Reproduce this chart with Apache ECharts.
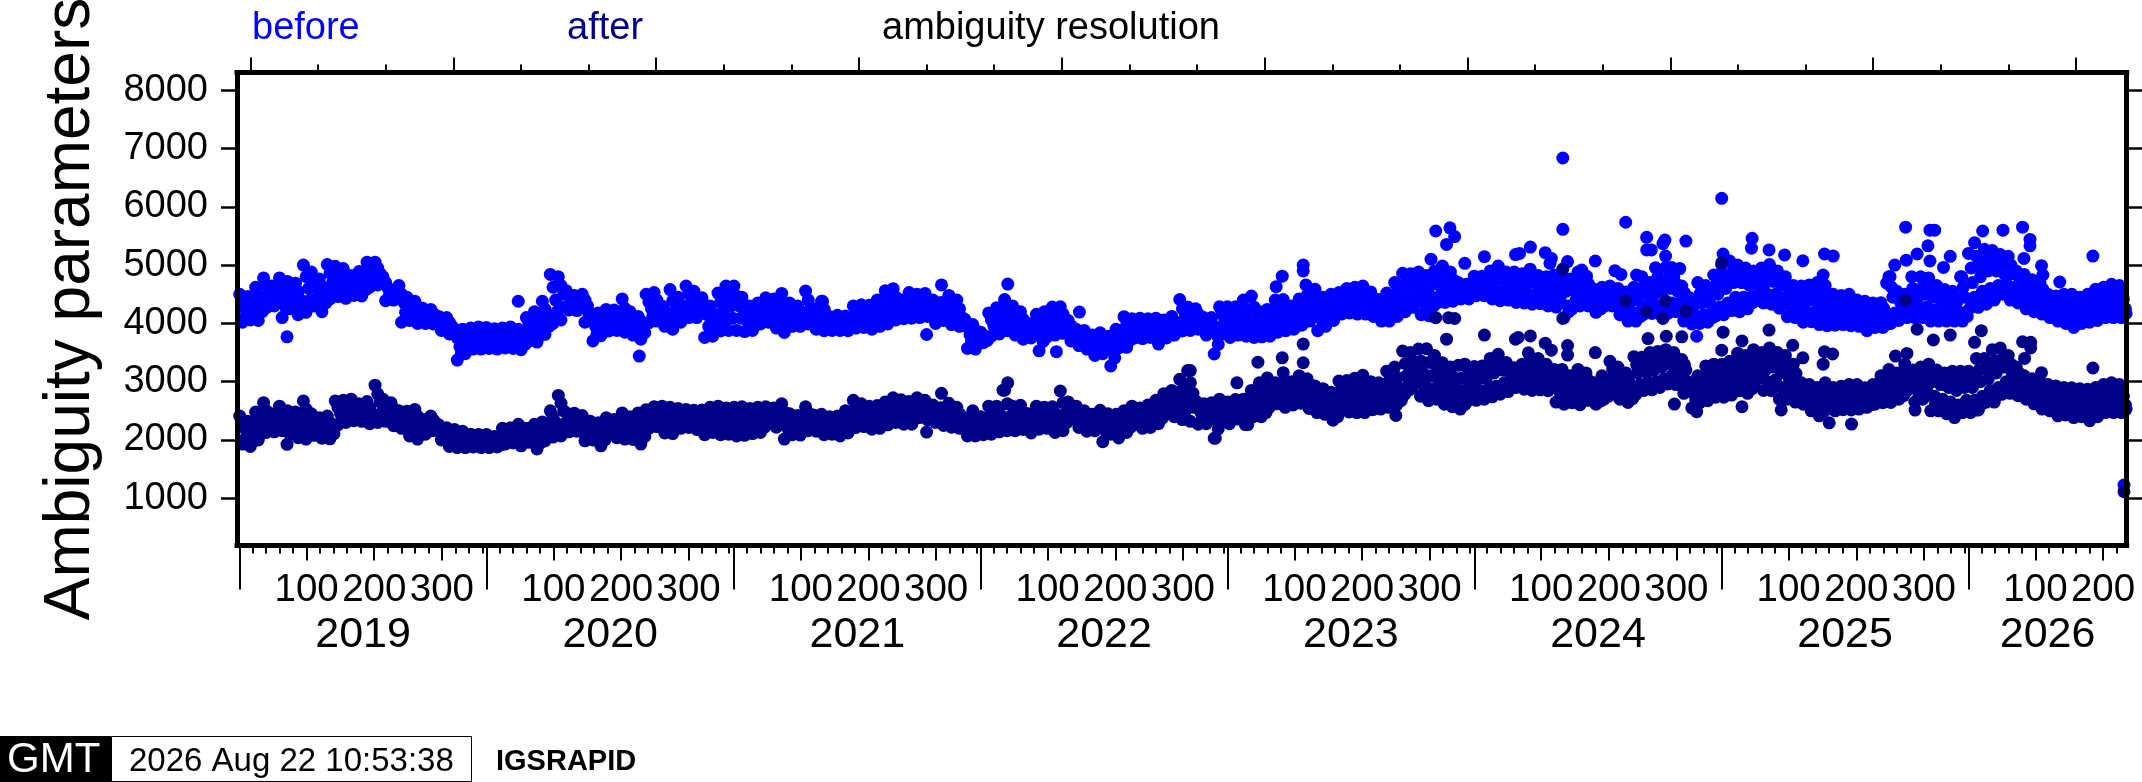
<!DOCTYPE html>
<html><head><meta charset="utf-8">
<style>html,body{margin:0;padding:0;background:#fff}#c{width:2142px;height:782px}</style>
<script src="https://cdn.jsdelivr.net/npm/echarts@6/dist/echarts.min.js"></script>
</head><body><div id="c"></div>
<script>
const yearNames=['2019','2020','2021','2022','2023','2024','2025','2026'];
const yearStarts=[0,365,731,1096,1461,1826,2192,2557];
const lastDay=2791;
const yTicks=[1000,2000,3000,4000,5000,6000,7000,8000];
const doyMinor=[20,40,60,80,100,120,140,160,180,200,220,240,260,280,300,320,340,360];
const doyLabels=[100,200,300];

const before2019=[4500,4020,4260,4460,4060,4300,4620,4050,4350,4780,4270,4520,4640,4300,4480,4780,4100,4420,4720,4250,4500,4690,4150,4400,5000,4190,4600,4880,4300,4620,4760,4200,4500,5010,4420,4700,4980,4460,4700,4940,4430,4680,4820,4480,4650,4890,4470,4700,5050,4620,4800,5050,4660,4850,4800,4390,4600,4560,4400,4480,4650,4020,4350,4450,4050,4250,4380,4000,4200,4260,4000,4120,4240,3990,4100,4120,3880,4000,4100,3820,3950,3900,3370,3600,3900,3480,3700,3920,3560,3720,3940,3560,3750];
const before2020=[3930,3570,3750,3910,3560,3740,3920,3580,3760,3940,3570,3750,3900,3550,3730,4100,3700,3880,4200,3680,3950,4380,3810,4100,4840,4000,4400,4800,4060,4500,4560,4230,4400,4480,4220,4350,4500,4020,4300,4180,3700,3950,4180,3790,4000,4240,3870,4050,4230,3880,4050,4420,3850,4100,4200,3800,4000,4120,3730,3950,4500,4010,4250,4530,4040,4280,4300,3950,4150,4580,3900,4200,4450,4020,4200,4640,4100,4350,4550,4100,4300,4440,3760,4150,4300,3780,4050,4520,3870,4200,4640,3880,4300];
const before2021=[4640,3880,4300,4450,3860,4150,4300,3880,4080,4350,3990,4180,4440,4020,4220,4420,3920,4180,4515,3845,4200,4350,3950,4150,4300,3950,4120,4555,3990,4250,4250,3900,4080,4380,3875,4100,4120,3880,4000,4140,3880,4010,4125,3875,4000,4300,3920,4100,4320,3930,4100,4310,3900,4100,4400,3950,4150,4560,3990,4300,4595,4060,4300,4400,4080,4250,4530,4090,4300,4500,4100,4300,4515,4120,4320,4400,4000,4200,4360,4050,4200,4480,3980,4200,4400,3950,4100,4070,3570,3800,3980,3560,3780];
const before2022=[3850,3670,3760,4180,3780,3950,4270,3820,4050,4410,3875,4150,4300,3800,4050,4200,3730,3950,4000,3750,3850,4155,3530,3850,4200,3770,3950,4280,3800,4050,4285,3830,4050,4050,3700,3880,3900,3620,3780,3880,3560,3720,3800,3450,3640,3840,3480,3650,3780,3270,3560,3900,3580,3720,4115,3590,3850,4080,3750,3920,4090,3740,3920,4080,3760,3920,4090,3645,3900,4060,3750,3900,4120,3800,3950,4410,3870,4100,4280,3880,4080,4250,3900,4080,4100,3800,3950,4100,3475,3800,4285,3820,4050];
const before2023=[4285,3760,4020,4285,3800,4050,4400,3780,4050,4470,3760,4100,4200,3770,4000,4240,3780,4020,4400,3850,4100,4410,3875,4150,4300,3900,4100,4420,3970,4200,4480,4040,4250,4585,3875,4250,4450,3950,4200,4500,4050,4280,4530,4160,4350,4600,4180,4380,4620,4160,4400,4640,4160,4400,4540,4120,4330,4410,4040,4250,4520,4040,4300,4700,4120,4400,4860,4200,4500,4850,4275,4550,4880,4150,4500,4820,4130,4450,4900,4350,4650,4985,4360,4650,4880,4380,4620,4700,4420,4550,4670,4420,4550];
const before2024=[4810,4475,4700,4580,4810,4475,4700,4580,4900,4420,4720,4560,4985,4390,4750,4550,4880,4400,4700,4540,4880,4360,4700,4520,4850,4350,4660,4500,4930,4330,4700,4500,4820,4340,4640,4480,4800,4300,4620,4450,4830,4280,4600,4420,4800,4100,4550,4300,4760,4250,4560,4400,4880,4300,4620,4440,4780,4300,4560,4420,4585,4190,4450,4320,4620,4290,4500,4400,4640,4300,4500,4400,4600,4150,4420,4280,4540,4040,4350,4180,4620,4040,4400,4200,4800,4160,4500,4300,4700,4170,4480,4300,4800,4160,4550,4330,4960,4170,4600,4350,4800,4200,4550,4350,4640,4040,4400,4200,4440,3990,4300,4120,4700,4000,4350,4150,4650,4020,4350,4180,4830,4130,4500,4280];
const before2025=[5000,4150,4600,4350,5070,4220,4700,4450,5000,4200,4700,4450,4950,4250,4650,4450,4900,4390,4700,4520,4950,4350,4700,4500,5010,4330,4720,4500,4900,4260,4650,4430,4800,4115,4500,4300,4650,4100,4420,4250,4640,4020,4350,4180,4660,4030,4400,4200,4700,3980,4350,4150,4650,3960,4300,4130,4500,3970,4280,4100,4480,3980,4250,4100,4500,3960,4280,4100,4400,3950,4200,4070,4380,3875,4170,4020,4350,3930,4180,4050,4355,3930,4180,4050,4800,4000,4450,4180,4550,4050,4350,4180,4500,4100,4350,4220,4600,4100,4400,4250,4800,4100,4500,4280,4780,4040,4450,4230,4650,4040,4400,4200,4580,4040,4350,4200,4550,4040,4350,4200,4800,4040,4450,4200];
const before2026=[5200,4270,4700,4450,5150,4275,4800,4550,5270,4330,4900,4600,5250,4400,4900,4650,5180,4500,4850,4680,5150,4400,4850,4620,4900,4350,4700,4520,4840,4250,4620,4430,4750,4200,4550,4350,4700,4160,4480,4300,4500,4100,4350,4220,4470,4040,4300,4170,4500,4000,4300,4150,4500,3930,4280,4100,4450,4000,4280,4130,4500,4020,4300,4150,4585,4050,4350,4200,4620,4100,4400,4250,4670,4100,4420,4250,4650,4100,4420,4250];

const beforeFill2019=[4380,4140,4380,4180,4480,4200,4650,4400,4560,4390,4600,4260,4610,4380,4550,4280,4800,4400,4750,4460,4630,4350,4860,4560,4840,4580,4810,4560,4740,4560,4800,4580,4920,4710,4950,4760,4700,4500,4520,4440,4500,4190,4350,4150,4290,4100,4190,4060,4170,4050,4060,3940,4020,3880,3750,3480,3800,3590,3820,3640,3850,3650];
const beforeFill2020=[3840,3660,3820,3650,3840,3670,3850,3660,3820,3640,3990,3790,4080,3810,4240,3950,4620,4200,4650,4280,4480,4310,4420,4280,4400,4160,4060,3820,4090,3890,4140,3960,4140,3960,4260,3980,4100,3900,4040,3840,4370,4130,4400,4160,4220,4050,4390,4050,4320,4110,4500,4220,4420,4200,4300,3950,4180,3910,4360,4030,4470,4090];
const beforeFill2021=[4470,4090,4300,4000,4190,3980,4260,4080,4330,4120,4300,4050,4360,4020,4250,4050,4210,4030,4400,4120,4160,3990,4240,3990,4060,3940,4070,3950,4060,3940,4200,4010,4210,4010,4200,4000,4270,4050,4430,4140,4450,4180,4330,4160,4410,4190,4400,4200,4420,4220,4300,4100,4280,4120,4340,4090,4250,4030,3940,3680,3880,3670];
const beforeFill2022=[3800,3710,4060,3860,4160,3930,4280,4010,4170,3920,4070,3840,3920,3800,4000,3690,4070,3860,4160,3920,4160,3940,3960,3790,3840,3700,3800,3640,3720,3550,3740,3560,3670,3410,3810,3650,3980,3720,4000,3830,4000,3830,4000,3840,3990,3770,3980,3820,4030,3870,4250,3980,4180,3980,4160,3990,4020,3870,3950,3640,4160,3930];
const beforeFill2023=[4150,3890,4160,3920,4220,3910,4280,3930,4100,3880,4130,3900,4250,3970,4280,4010,4200,4000,4310,4080,4360,4140,4420,4060,4320,4070,4390,4160,4440,4250,4490,4280,4510,4280,4520,4280,4430,4220,4330,4140,4410,4170,4550,4260,4680,4350,4700,4410,4690,4320,4630,4290,4770,4500,4810,4500,4750,4500,4620,4480,4610,4480];
const beforeFill2024=[4760,4530,4760,4530,4810,4490,4860,4470,4790,4470,4790,4440,4750,4420,4810,4410,4730,4410,4710,4370,4710,4350,4670,4200,4660,4320,4750,4370,4670,4360,4520,4250,4560,4340,4570,4350,4510,4210,4440,4110,4510,4120,4650,4230,4590,4230,4670,4240,4780,4260,4670,4270,4520,4120,4370,4050,4520,4070,4500,4100,4660,4200];
const beforeFill2025=[4800,4250,4880,4330,4850,4320,4800,4350,4800,4450,4820,4420,4860,4410,4770,4340,4650,4200,4530,4170,4500,4100,4530,4110,4520,4060,4470,4040,4390,4030,4360,4040,4390,4030,4300,4010,4270,3950,4260,3990,4260,3990,4620,4090,4450,4110,4420,4160,4500,4170,4650,4190,4610,4130,4520,4120,4460,4120,4450,4120,4620,4120];
const beforeFill2026=[4950,4360,4980,4410,5080,4460,5070,4520,5010,4590,5000,4510,4800,4430,4730,4340,4650,4270,4590,4230,4420,4160,4380,4100,4400,4070,4390,4010,4360,4060,4400,4080,4470,4120,4510,4170,4540,4170,4530,4170];

const after2019=[2410,1930,2200,2320,1890,2100,2480,2000,2250,2640,2130,2380,2450,2140,2300,2580,2160,2350,2500,2100,2300,2480,2040,2250,2670,2015,2400,2450,2080,2300,2380,2030,2200,2410,2020,2200,2670,2260,2450,2680,2300,2500,2700,2330,2520,2620,2320,2480,2660,2280,2450,2940,2300,2650,2700,2320,2500,2640,2245,2450,2500,2200,2350,2495,2070,2300,2525,2015,2300,2350,2100,2220,2410,2160,2280,2260,2000,2150,2210,1890,2050,2180,1870,2020,2150,1870,2000,2100,1880,1990,2095,1870,1980];
const after2020=[2095,1870,1980,2060,1880,1970,2200,1930,2050,2210,1950,2080,2270,1900,2100,2200,1960,2100,2270,1845,2080,2310,1985,2150,2500,2050,2300,2765,2070,2500,2465,2140,2300,2460,2150,2300,2420,1985,2200,2320,2000,2170,2295,1900,2100,2380,2160,2280,2350,2040,2200,2465,2015,2250,2400,2010,2200,2465,1930,2200,2520,2200,2350,2570,2230,2400,2580,2120,2350,2560,2110,2330,2540,2200,2380,2525,2215,2370,2510,2180,2350,2515,2090,2300,2560,2130,2350,2580,2090,2350,2550,2100,2330];
const after2021=[2560,2070,2330,2570,2080,2300,2540,2110,2320,2560,2130,2320,2570,2300,2450,2550,2220,2400,2620,2015,2350,2450,2090,2270,2420,2085,2250,2570,2160,2350,2430,2150,2290,2440,2090,2250,2400,2100,2260,2410,2070,2240,2500,2120,2300,2680,2215,2450,2620,2230,2420,2580,2185,2400,2590,2200,2400,2650,2260,2450,2725,2300,2500,2690,2270,2480,2660,2270,2470,2725,2385,2550,2680,2350,2500,2600,2300,2450,2555,2250,2400,2630,2220,2420,2560,2200,2350,2380,2070,2220,2500,2070,2280];
const after2022=[2400,2090,2240,2580,2100,2340,2580,2140,2350,2855,2160,2400,2580,2160,2360,2595,2180,2380,2450,2120,2280,2580,2185,2350,2560,2200,2350,2570,2130,2350,2840,2160,2450,2650,2360,2500,2580,2215,2400,2500,2150,2320,2440,2160,2300,2510,1970,2250,2450,2100,2280,2440,2035,2250,2500,2130,2320,2580,2270,2420,2550,2200,2380,2600,2215,2400,2680,2280,2480,2795,2445,2600,2850,2400,2620,3040,2350,2700,3190,2320,2800,2670,2270,2470,2620,2280,2450,2640,2030,2350,2700,2320,2500];
const after2023=[2650,2280,2450,2560,2695,2360,2520,2620,2700,2265,2500,2380,2850,2400,2620,2520,2980,2400,2700,2550,3065,2560,2800,2680,2980,2620,2800,2720,3155,2560,2850,2700,3000,2600,2800,2700,3100,2630,2850,2740,3050,2540,2780,2660,2925,2470,2700,2580,2880,2440,2650,2550,2820,2340,2600,2470,3010,2615,2800,2700,3020,2480,2750,2620,3060,2470,2780,2620,3110,2470,2800,2640,3000,2520,2750,2640,2980,2530,2750,2640,3180,2560,2850,2700,3250,2600,2900,2750,3525,2780,3100,2950,3500,2900,3200,3050,3560,2750,3150,2950,3565,2675,3100,2880,3450,2700,3050,2880,3325,2615,3000,2800,3250,2570,2900,2730,3280,2530,2850,2680,3260,2680,2950,2800];
const after2024=[3260,2680,3050,2850,3270,2700,3050,2870,3400,2740,3150,2920,3470,2785,3200,2980,3330,2830,3150,2980,3240,2900,3120,3000,3300,2870,3150,3000,3350,2850,3120,2980,3400,2860,3150,3000,3300,2845,3100,2960,3210,2650,3000,2820,3210,2615,2980,2800,3100,2640,2900,2760,3210,2605,2950,2780,3150,2680,2900,2780,2980,2615,2850,2720,3100,2700,2920,2800,3350,2785,3100,2920,3250,2700,3000,2850,3150,2645,2920,2780,3430,2780,3150,2950,3420,2850,3180,3000,3500,2860,3200,3000,3520,2900,3250,3050,3550,2960,3300,3100,3500,2950,3250,3080,3380,2800,3200,3000,2925,2550,2800,2680,3100,2640,2900,2760,3270,2675,3000,2820,3300,2735,3050,2880];
const after2025=[3300,2735,3050,2880,3350,2770,3100,2920,3490,2845,3150,2980,3450,2800,3150,2960,3550,3015,3300,3120,3500,2850,3200,3000,3580,2845,3250,3030,3500,2700,3150,2900,3450,2700,3050,2850,3300,2650,2980,2800,2980,2615,2850,2720,2950,2500,2780,2620,2900,2415,2720,2560,2980,2530,2800,2650,2900,2500,2720,2600,2920,2520,2760,2620,2950,2515,2780,2630,2950,2530,2780,2640,2895,2560,2760,2660,2950,2615,2800,2700,3100,2640,2880,2760,3210,2645,2950,2780,3150,2700,2950,2820,3300,2845,3100,2950,3200,2650,2950,2800,3250,2700,3000,2850,3300,2500,3000,2750,3200,2500,2950,2700,3150,2450,2900,2650,3180,2385,2850,2600,3180,2470,2900,2680];
const after2026=[3180,2470,2900,2680,3400,2515,3000,2750,3400,2650,3050,2850,3550,2650,3150,2900,3580,2785,3250,3000,3450,2800,3150,2980,3250,2760,3050,2900,3100,2700,2950,2820,3050,2620,2880,2750,3000,2530,2800,2660,2950,2500,2760,2620,2925,2415,2720,2560,2900,2430,2700,2560,2895,2385,2680,2540,2880,2400,2680,2540,2870,2330,2650,2500,2900,2400,2700,2560,2950,2470,2750,2600,2980,2470,2780,2620,2950,2470,2750,2600];

const afterFill2019=[2300,2060,2210,1990,2360,2120,2500,2250,2370,2220,2460,2250,2400,2200,2360,2140,2530,2200,2370,2190,2290,2110,2300,2110,2560,2350,2590,2400,2610,2420,2550,2400,2550,2360,2790,2470,2600,2410,2540,2340,2420,2270,2390,2180,2410,2150,2280,2160,2340,2220,2200,2070,2130,1970,2100,1940,2070,1930,2040,1930,2040,1920];
const afterFill2020=[2040,1920,2010,1920,2120,1990,2140,2010,2180,1990,2150,2030,2170,1960,2230,2060,2400,2170,2630,2280,2380,2220,2380,2220,2310,2090,2240,2080,2190,2000,2330,2220,2270,2120,2350,2130,2300,2100,2330,2060,2430,2270,2480,2310,2460,2230,2440,2220,2460,2290,2450,2290,2430,2260,2400,2190,2450,2240,2460,2220,2440,2210];
const afterFill2021=[2440,2200,2430,2190,2430,2210,2440,2220,2510,2370,2470,2310,2480,2180,2360,2180,2330,2170,2460,2250,2360,2220,2340,2170,2330,2180,2320,2150,2400,2210,2560,2330,2520,2320,2490,2290,2490,2300,2550,2350,2610,2400,2580,2370,2560,2370,2630,2470,2590,2420,2520,2370,2470,2320,2520,2320,2450,2270,2300,2140,2390,2170];
const afterFill2022=[2320,2170,2460,2220,2460,2250,2620,2280,2470,2260,2480,2280,2360,2200,2460,2270,2450,2270,2460,2240,2640,2300,2570,2430,2490,2300,2410,2230,2370,2230,2380,2110,2360,2190,2340,2140,2410,2220,2500,2340,2460,2290,2500,2300,2580,2380,2690,2520,2730,2510,2860,2520,2980,2560,2570,2370,2530,2360,2490,2190,2600,2410];
const afterFill2023=[2600,2370,2650,2440,2650,2400,2780,2460,2840,2470,2930,2620,2890,2660,3000,2630,2900,2650,3000,2680,2950,2600,2820,2530,2770,2500,2710,2400,2900,2660,2880,2550,2920,2540,2950,2550,2870,2580,2860,2590,3020,2630,3070,2680,3310,2860,3350,3000,3350,2850,3330,2780,3250,2790,3160,2710,3080,2650,3060,2610,3100,2740];
const afterFill2024=[3150,2770,3160,2790,3270,2830,3330,2880,3240,2900,3180,2950,3220,2930,3230,2910,3270,2930,3200,2900,3100,2730,3090,2700,3000,2700,3080,2690,3020,2730,2910,2670,3010,2750,3220,2850,3120,2780,3030,2710,3290,2860,3300,2930,3350,2930,3380,2970,3420,3030,3370,3010,3290,2900,2860,2610,3000,2700,3130,2750,3170,2810];
const afterFill2025=[3170,2810,3220,2840,3320,2910,3300,2880,3420,3070,3350,2930,3410,2940,3320,2800,3250,2780,3140,2730,2910,2670,2860,2560,2810,2490,2890,2590,2810,2550,2840,2570,2860,2570,2860,2580,2830,2610,2870,2660,2990,2700,3080,2710,3050,2760,3200,2900,3070,2720,3120,2770,3150,2620,3070,2600,3020,2550,3010,2490,3040,2570];
const afterFill2026=[3040,2570,3200,2630,3220,2750,3350,2780,3410,2890,3300,2890,3150,2830,3020,2760,2960,2680,2900,2590,2850,2560,2820,2490,2800,2490,2790,2460,2780,2470,2760,2410,2800,2480,2850,2530,2880,2540,2850,2530];

const beforeOutliers=[[70,3770],[412,4380],[591,3440],[862,4380],[1016,3810],[1038,4660],[1136,4675],[1208,3515],[1242,4195],[1542,4810],[1533,4630],[1573,5000],[1573,4900],[1577,4660],[1769,5585],[1790,5640],[1797,5490],[1785,5355],[1762,5100],[1812,5030],[1841,5145],[1893,5200],[1887,5180],[1909,5310],[1931,5213],[1940,5115],[1938,5030],[1957,6837],[1957,5613],[1964,5060],[1985,4915],[1992,4810],[2005,5070],[2034,4905],[2043,4840],[2050,5735],[2066,4830],[2081,5476],[2081,5260],[2088,5260],[2108,5430],[2105,5370],[2109,5155],[2094,4955],[2118,4960],[2130,4940],[2139,5413],[2155,3780],[2192,6145],[2194,5190],[2192,4830],[2237,5460],[2236,5290],[2262,5260],[2285,5175],[2312,5075],[2344,5190],[2357,5155],[2342,4830],[2441,4800],[2448,5000],[2436,4690],[2464,5650],[2465,5085],[2473,4800],[2481,5190],[2497,5330],[2500,5600],[2500,5070],[2507,5600],[2520,4960],[2530,5150],[2547,4800],[2578,5585],[2566,5385],[2608,5600],[2637,5650],[2648,5440],[2648,5330],[2639,5115],[2665,4990],[2667,4830],[2692,4710],[2741,5155],[2787,1228]];
const afterOutliers=[[70,1925],[1016,2136],[1038,2800],[1136,2980],[1129,2855],[1406,3190],[1443,2030],[1475,2980],[1506,3335],[1542,3410],[1573,3645],[1573,3325],[1491,2265],[1710,2420],[1769,4098],[1788,4098],[1797,4085],[1785,3730],[1812,3300],[1841,3800],[1887,3730],[1891,3760],[1909,3785],[1906,3495],[1931,3660],[1940,3540],[1957,4933],[1957,4085],[1964,3620],[1964,3457],[2005,3500],[2050,4384],[2081,4200],[2083,3740],[2105,4085],[2109,4384],[2110,3780],[2122,2616],[2133,3770],[2139,4212],[2155,2485],[2192,5040],[2194,3850],[2192,3540],[2222,3700],[2222,2570],[2262,3885],[2297,3625],[2280,2515],[2312,3410],[2344,3515],[2356,3475],[2342,3300],[2351,2295],[2384,2273],[2464,4400],[2449,3440],[2466,3485],[2481,3900],[2478,2513],[2505,3715],[2530,3800],[2569,2515],[2576,3875],[2566,3675],[2637,3685],[2649,3675],[2649,3580],[2640,3400],[2665,3155],[2741,3235],[2787,1113]];

const FF='"Liberation Sans"';
const xMin=-4;
const beforeYears=[before2019,before2020,before2021,before2022,before2023,before2024,before2025,before2026];
const beforeFills=[beforeFill2019,beforeFill2020,beforeFill2021,beforeFill2022,beforeFill2023,beforeFill2024,beforeFill2025,beforeFill2026];
const afterYears=[after2019,after2020,after2021,after2022,after2023,after2024,after2025,after2026];
const afterFills=[afterFill2019,afterFill2020,afterFill2021,afterFill2022,afterFill2023,afterFill2024,afterFill2025,afterFill2026];
function spread(list,shift){
  const out=[];
  list.forEach((vals,k)=>{
    const s=yearStarts[k], e=k+1<yearStarts.length?yearStarts[k+1]:lastDay+1;
    vals.forEach((v,i)=>out.push([s+shift+i*(e-s)/vals.length,v]));
  });
  return out;
}
const inRange=v=>v>=xMin&&v<=lastDay;
const minorTicks=[],doyTicks=[],doyText={},yearText={},yearMid=[];
yearStarts.forEach((s,k)=>{
  doyMinor.forEach(d=>{ if(inRange(s+d-1)) minorTicks.push(s+d-1); });
  doyLabels.forEach(d=>{ if(inRange(s+d-1)){doyTicks.push(s+d-1);doyText[s+d-1]=String(d);} });
  const e=k+1<yearStarts.length?yearStarts[k+1]:lastDay;
  const m=(s+e)/2; yearMid.push(m); yearText[m]=yearNames[k];
});
const mjdMinor=[],mjdMajor=[];
for(let m=16;m<=lastDay;m+=100){mjdMinor.push(m); if((m-16)%300===0) mjdMajor.push(m);}

const noLine={show:false};
function xa(pos,ticks,len,labelCfg){
  return {type:'value',position:pos,min:xMin,max:lastDay,splitLine:{show:false},z:6,
    axisLine:noLine,
    axisTick:{show:true,length:len,customValues:ticks,lineStyle:{color:'#000',width:2}},
    axisLabel:labelCfg||{show:false}};
}
const line={show:true,onZero:false,lineStyle:{color:'#000',width:5,cap:'square'}};
const axes=[
  xa('bottom',minorTicks,8),
  xa('bottom',doyTicks,15,{show:true,customValues:doyTicks,margin:25,fontFamily:FF,fontSize:38.5,color:'#000',formatter:v=>doyText[v]||''}),
  xa('bottom',yearStarts,44),
  xa('bottom',[],0,{show:true,customValues:yearMid,margin:68,fontFamily:FF,fontSize:43,color:'#000',formatter:v=>yearText[v]||''}),
  xa('top',mjdMinor,8),
  xa('top',mjdMajor,15)
];
axes[0].axisLine=line;
axes[4].axisLine=line;

const chart=echarts.init(document.getElementById('c'),null,{renderer:'canvas'});
chart.setOption({
  animation:false,
  backgroundColor:'#fff',
  grid:{left:237,right:15.3,top:72.5,bottom:236.5,containLabel:false,outerBoundsMode:'none'},
  xAxis:axes,
  yAxis:[
    {type:'value',position:'left',min:190,max:8304,z:6,splitLine:{show:false},axisLine:line,
     axisTick:{show:true,length:16,customValues:yTicks,lineStyle:{color:'#000',width:2.5}},
     axisLabel:{show:true,customValues:yTicks,margin:29,fontFamily:FF,fontSize:38,color:'#000',formatter:v=>String(v)},
     name:'Ambiguity parameters',nameLocation:'middle',nameRotate:90,nameGap:134,
     nameTextStyle:{fontFamily:FF,fontSize:64,color:'#000'}},
    {type:'value',position:'right',min:190,max:8304,z:6,splitLine:{show:false},axisLine:line,
     axisTick:{show:true,length:16,customValues:yTicks,lineStyle:{color:'#000',width:2.5}},
     axisLabel:{show:false}}
  ],
  series:[
    {name:'before',type:'scatter',xAxisIndex:0,yAxisIndex:0,symbol:'circle',symbolSize:13,
     itemStyle:{color:'#0000ff',opacity:1},data:spread(beforeYears,0).concat(spread(beforeFills,4),beforeOutliers),z:2},
    {name:'after',type:'scatter',xAxisIndex:0,yAxisIndex:0,symbol:'circle',symbolSize:13,
     itemStyle:{color:'#00008b',opacity:1},data:spread(afterYears,0).concat(spread(afterFills,4),afterOutliers),z:3}
  ],
  graphic:[
    {type:'text',style:{x:252,y:29,text:'before',font:'38px '+FF,fill:'#0000ff',verticalAlign:'middle'}},
    {type:'text',style:{x:567,y:29,text:'after',font:'38px '+FF,fill:'#00008b',verticalAlign:'middle'}},
    {type:'text',style:{x:882,y:29,text:'ambiguity resolution',font:'38px '+FF,fill:'#000',verticalAlign:'middle'}},
    {type:'rect',shape:{x:0,y:736,width:111,height:46},style:{fill:'#000'}},
    {type:'rect',shape:{x:111.5,y:736.5,width:360,height:45},style:{fill:'#fff',stroke:'#000',lineWidth:1}},
    {type:'text',style:{x:7,y:760,text:'GMT',font:'42px '+FF,fill:'#fff',verticalAlign:'middle'}},
    {type:'text',style:{x:129,y:762,text:'2026 Aug 22 10:53:38',font:'33px '+FF,fill:'#000',verticalAlign:'middle'}},
    {type:'text',style:{x:496,y:762,text:'IGSRAPID',font:'bold 29px '+FF,fill:'#000',verticalAlign:'middle'}}
  ]
});
</script></body></html>
